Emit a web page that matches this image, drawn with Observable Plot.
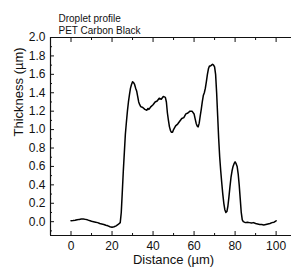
<!DOCTYPE html>
<html>
<head>
<meta charset="utf-8">
<script src="https://cdn.jsdelivr.net/npm/d3@7"></script>
<script src="https://cdn.jsdelivr.net/npm/@observablehq/plot@0.6"></script>
<style>
  html, body { margin: 0; padding: 0; background: #fff; overflow: hidden; }
  svg { display: block; }
</style>
</head>
<body>
<div id="chart"></div>
<script>
const distance = [0,1,2,3,4,5,6,7,8,9,10,11,12,13,14,15,16,17,18,19,20,21,22,23,24,24.5,25,25.5,26,26.5,27,27.5,28,28.5,29,29.5,30,30.5,31,31.5,32,32.5,33,33.5,34,35,36,37,37.5,38,39,40,41,42,43,44,45,46,46.5,47,47.5,48,48.5,49,49.5,50,51,52,53,54,55,56,57,58,59,60,60.5,61,61.5,62,62.5,63,63.5,64,64.5,65,65.5,66,66.5,67,67.5,68,68.5,69,69.5,70,70.5,71,71.5,72,72.5,73,73.5,74,74.5,75,75.5,76,76.5,77,77.5,78,78.5,79,79.5,80,80.5,81,81.5,82,82.5,83,83.5,84,85,86,87,88,89,90,91,92,93,94,95,96,97,98,99,100];
const thickness = [0.01,0.012,0.015,0.02,0.025,0.028,0.03,0.025,0.02,0.012,0.005,0.0,-0.005,-0.01,-0.02,-0.025,-0.03,-0.038,-0.045,-0.055,-0.06,-0.055,-0.045,-0.03,-0.01,0.1,0.32,0.55,0.75,0.95,1.08,1.2,1.3,1.38,1.45,1.49,1.52,1.51,1.49,1.45,1.42,1.36,1.30,1.27,1.25,1.24,1.22,1.21,1.23,1.22,1.25,1.27,1.30,1.31,1.34,1.33,1.36,1.35,1.30,1.18,1.10,1.03,0.99,0.97,0.97,1.0,1.04,1.06,1.09,1.12,1.13,1.17,1.18,1.20,1.20,1.17,1.12,1.07,1.04,1.03,1.07,1.15,1.22,1.30,1.37,1.40,1.45,1.52,1.60,1.66,1.69,1.69,1.70,1.71,1.70,1.68,1.60,1.40,1.15,0.90,0.70,0.55,0.42,0.30,0.20,0.13,0.10,0.11,0.17,0.27,0.38,0.48,0.55,0.60,0.63,0.65,0.63,0.60,0.52,0.40,0.25,0.10,0.02,0.0,-0.01,-0.005,-0.01,-0.015,-0.01,-0.02,-0.025,-0.03,-0.03,-0.035,-0.03,-0.025,-0.02,-0.01,-0.005,0.01];
const xMajor = [0,20,40,60,80,100];
const xMinor = [10,30,50,70,90];
const yMajor = [0,0.2,0.4,0.6,0.8,1.0,1.2,1.4,1.6,1.8,2.0];
const yMinor = [-0.1,0.1,0.3,0.5,0.7,0.9,1.1,1.3,1.5,1.7,1.9];
const titleLines = ["Droplet profile", "PET Carbon Black"];
const xLabel = "Distance (µm)";
const yLabel = "Thickness (µm)";

const data = distance.map((d, i) => ({x: d, y: thickness[i]}));
const xDomain = [-10, 107.5];
const yDomain = [-0.15, 2.0];
const font = "Liberation Sans, Arial, sans-serif";
const ink = "#111";
const noText = () => "";

const chart = Plot.plot({
  width: 291,
  height: 271,
  marginLeft: 50,
  marginRight: 0,
  marginTop: 37,
  marginBottom: 36,
  style: {fontFamily: font, color: ink, background: "#fff"},
  x: {domain: xDomain, axis: null},
  y: {domain: yDomain, axis: null},
  marks: [
    Plot.ruleX([xDomain[0]], {stroke: ink, strokeWidth: 1.2}),
    Plot.ruleY([yDomain[0], yDomain[1]], {stroke: ink, strokeWidth: 1.2}),
    Plot.axisX(xMajor, {anchor: "bottom", tickSize: -4, tickFormat: noText, label: null, stroke: ink}),
    Plot.axisX(xMinor, {anchor: "bottom", tickSize: -2, tickFormat: noText, label: null, stroke: ink}),
    Plot.axisX(xMajor, {anchor: "top", tickSize: -4, tickFormat: noText, label: null, stroke: ink}),
    Plot.axisX(xMinor, {anchor: "top", tickSize: -2, tickFormat: noText, label: null, stroke: ink}),
    Plot.axisY(yMajor, {anchor: "left", tickSize: -4, tickFormat: noText, label: null, stroke: ink}),
    Plot.axisY(yMinor, {anchor: "left", tickSize: -2, tickFormat: noText, label: null, stroke: ink}),
    Plot.axisX(xMajor, {anchor: "bottom", tickSize: 0, tickPadding: 6, fontSize: 12, label: null, fill: ink}),
    Plot.axisY(yMajor, {anchor: "left", tickSize: 0, tickPadding: 5, fontSize: 12, label: null, fill: ink, tickFormat: d => d.toFixed(1)}),
    Plot.text([xLabel], {x: 50, frameAnchor: "bottom", dy: 28, fontSize: 13, fill: ink}),
    Plot.text([yLabel], {frameAnchor: "left", rotate: -90, dx: -32, fontSize: 13, fill: ink}),
    Plot.text([titleLines[0]], {frameAnchor: "top-left", textAnchor: "start", dx: 8, dy: -23, fontSize: 10, fill: ink}),
    Plot.text([titleLines[1]], {frameAnchor: "top-left", textAnchor: "start", dx: 8, dy: -11, fontSize: 10, fill: ink}),
    Plot.line(data, {x: "x", y: "y", stroke: "#000", strokeWidth: 1.5})
  ]
});
document.getElementById("chart").appendChild(chart);
</script>
</body>
</html>
